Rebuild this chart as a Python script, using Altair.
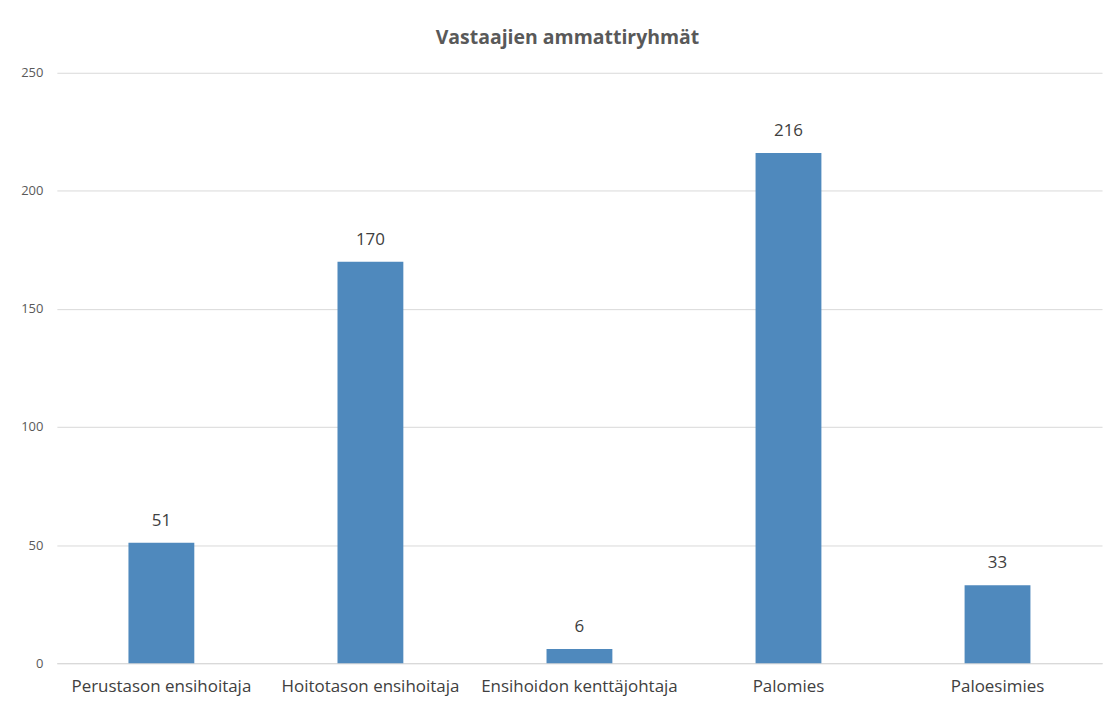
import altair as alt
import pandas as pd

categories = ["Perustason ensihoitaja", "Hoitotason ensihoitaja", "Ensihoidon kenttäjohtaja", "Palomies", "Paloesimies"]
values = [51, 170, 6, 216, 33]

df = pd.DataFrame({"cat": categories, "val": values})

FONT = "Open Sans"

base = alt.Chart(df).encode(
    x=alt.X("cat:N", sort=categories, title=None,
            scale=alt.Scale(paddingInner=0.685, paddingOuter=0.3425),
            axis=alt.Axis(labelAngle=0, labelFontSize=17, labelColor="#404040",
                          labelFont=FONT, labelPadding=15, ticks=False, labelLimit=400,
                          domainColor="#d9d9d9", domainWidth=1.3)),
    y=alt.Y("val:Q", title=None,
            scale=alt.Scale(domain=[0, 250]),
            axis=alt.Axis(values=[0, 50, 100, 150, 200, 250], labelFontSize=13,
                          labelColor="#595959", labelFont=FONT, labelPadding=14,
                          ticks=False, domain=False, gridColor="#d9d9d9",
                          gridWidth=1)),
)

bars = base.mark_bar(color="#4f89bd")
labels = base.mark_text(dy=-13, fontSize=17, color="#404040", font=FONT, baseline="bottom").encode(
    text="val:Q")

chart = (bars + labels).properties(
    width=1048, height=592,
    title=alt.TitleParams("Vastaajien ammattiryhmät", fontSize=19.5, fontWeight="bold",
                          color="#595959", font=FONT, anchor="middle", offset=18, dx=-12),
    autosize=alt.AutoSizeParams(type="none"),
    padding={"left": 49, "top": 64, "right": 10, "bottom": 40},
).configure_view(stroke=None)

chart.save("out.html", embed_options={"renderer": "svg", "actions": False})
